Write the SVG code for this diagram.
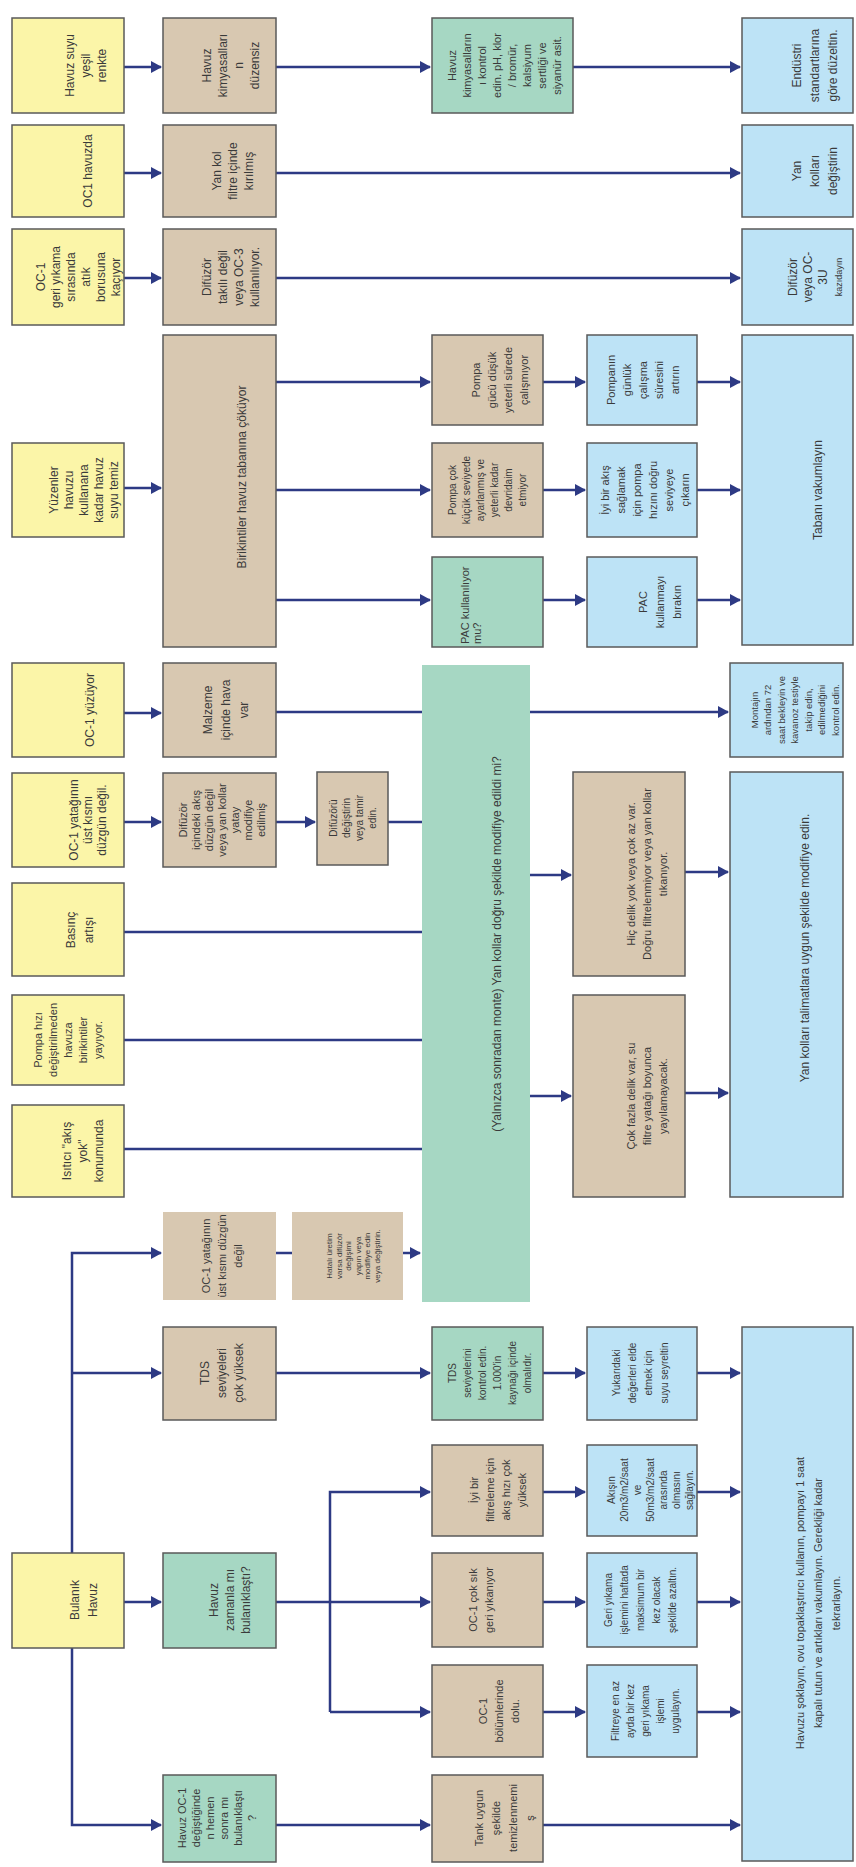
<svg xmlns="http://www.w3.org/2000/svg" width="856" height="1867" viewBox="0 0 856 1867">
<style>
.y{fill:#fbf5a8;stroke:#5a5a5a;stroke-width:1.5}
.t{fill:#d8c8b1;stroke:#5a5a5a;stroke-width:1.5}
.tn{fill:#d8c8b1}
.g{fill:#a6d7c3;stroke:#5a5a5a;stroke-width:1.5}
.gn{fill:#a6d7c3}
.b{fill:#bde3f6;stroke:#5a5a5a;stroke-width:1.5}
text{font-family:"Liberation Sans",Arial,sans-serif;fill:#3a3a3a;text-anchor:middle}
.c path{fill:none;stroke:#2d3a84;stroke-width:2.5}
.c path.a{marker-end:url(#ah)}
</style>
<defs>
<marker id="ah" markerUnits="userSpaceOnUse" markerWidth="11" markerHeight="12" refX="10" refY="6" orient="auto">
<path d="M0,0 L11,6 L0,12 z" fill="#2d3a84"/>
</marker>
</defs>
<rect width="856" height="1867" fill="#ffffff"/>

<g class="c" id="connectors">
<path class="a" d="M124,67 H161"/>
<path class="a" d="M124,173 H161"/>
<path class="a" d="M124,278 H161"/>
<path class="a" d="M124,488 H161"/>
<path class="a" d="M124,713 H161"/>
<path class="a" d="M124,822 H161"/>
<path class="a" d="M276,67 H430"/>
<path class="a" d="M573,67 H740"/>
<path class="a" d="M276,173 H740"/>
<path class="a" d="M276,278 H740"/>
<path class="a" d="M276,382 H430"/>
<path class="a" d="M276,490 H430"/>
<path class="a" d="M276,600 H430"/>
<path class="a" d="M543,382 H585"/>
<path class="a" d="M543,490 H585"/>
<path class="a" d="M543,600 H585"/>
<path class="a" d="M697,382 H740"/>
<path class="a" d="M697,490 H740"/>
<path class="a" d="M697,600 H740"/>
<path d="M276,712 H422"/>
<path class="a" d="M530,712 H728"/>
<path class="a" d="M276,822 H315"/>
<path d="M388,822 H422"/>
<path d="M124,932 H422"/>
<path d="M124,1040 H422"/>
<path d="M124,1149 H422"/>
<path class="a" d="M530,875 H571"/>
<path class="a" d="M530,1096 H571"/>
<path class="a" d="M685,872 H728"/>
<path class="a" d="M685,1093 H728"/>
<path d="M276,1253 H292"/>
<path class="a" d="M403,1253 H420"/>
<path class="a" d="M72,1553 V1253 H161"/>
<path class="a" d="M72,1373 H161"/>
<path class="a" d="M72,1648 V1825 H161"/>
<path class="a" d="M124,1602 H161"/>
<path class="a" d="M276,1373 H430"/>
<path class="a" d="M543,1373 H585"/>
<path class="a" d="M697,1373 H740"/>
<path class="a" d="M276,1602 H430"/>
<path class="a" d="M330,1712 V1492 H430"/>
<path class="a" d="M330,1712 H430"/>
<path class="a" d="M543,1492 H585"/>
<path class="a" d="M543,1602 H585"/>
<path class="a" d="M543,1712 H585"/>
<path class="a" d="M697,1492 H740"/>
<path class="a" d="M697,1602 H740"/>
<path class="a" d="M697,1712 H740"/>
<path class="a" d="M276,1825 H430"/>
<path class="a" d="M543,1825 H740"/>
</g>

<g id="y1"><rect class="y" x="12" y="18" width="112" height="95"/>
<text font-size="12" transform="translate(86,65.5) rotate(-90)"><tspan x="0" y="-11.8">Havuz suyu</tspan><tspan x="0" y="4.2">yeşil</tspan><tspan x="0" y="20.2">renkte</tspan></text></g>
<g id="y2"><rect class="y" x="12" y="125" width="112" height="92"/>
<text font-size="12" transform="translate(88,171) rotate(-90)"><tspan x="0" y="4.2">OC1 havuzda</tspan></text></g>
<g id="y3"><rect class="y" x="12" y="229" width="112" height="96"/>
<text font-size="12" transform="translate(78,277) rotate(-90)"><tspan x="0" y="-33.3">OC-1</tspan><tspan x="0" y="-18.3">geri yıkama</tspan><tspan x="0" y="-3.3">sırasında</tspan><tspan x="0" y="11.7">atık</tspan><tspan x="0" y="26.7">borusuna</tspan><tspan x="0" y="41.7">kaçıyor</tspan></text></g>
<g id="y4"><rect class="y" x="12" y="443" width="112" height="94"/>
<text font-size="12" transform="translate(84,490) rotate(-90)"><tspan x="0" y="-25.8">Yüzenler</tspan><tspan x="0" y="-10.8">havuzu</tspan><tspan x="0" y="4.2">kullanana</tspan><tspan x="0" y="19.2">kadar havuz</tspan><tspan x="0" y="34.2">suyu temiz</tspan></text></g>
<g id="y5"><rect class="y" x="12" y="663" width="112" height="94"/>
<text font-size="12" transform="translate(90,710) rotate(-90)"><tspan x="0" y="4.2">OC-1 yüzüyor</tspan></text></g>
<g id="y6"><rect class="y" x="12" y="773" width="112" height="94"/>
<text font-size="12" transform="translate(88,820) rotate(-90)"><tspan x="0" y="-9.8">OC-1 yatağının</tspan><tspan x="0" y="4.2">üst kısmı</tspan><tspan x="0" y="18.2">düzgün değil.</tspan></text></g>
<g id="y7"><rect class="y" x="12" y="883" width="112" height="93"/>
<text font-size="12" transform="translate(80,930) rotate(-90)"><tspan x="0" y="-4.8">Basınç</tspan><tspan x="0" y="13.2">artışı</tspan></text></g>
<g id="y8"><rect class="y" x="12" y="995" width="112" height="90"/>
<text font-size="11" transform="translate(68,1040) rotate(-90)"><tspan x="0" y="-26.15">Pompa hızı</tspan><tspan x="0" y="-11.15">değiştirilmeden</tspan><tspan x="0" y="3.85">havuza</tspan><tspan x="0" y="18.85">birikintiler</tspan><tspan x="0" y="33.85">yayıyor.</tspan></text></g>
<g id="y9"><rect class="y" x="12" y="1105" width="112" height="92"/>
<text font-size="12" transform="translate(83,1151) rotate(-90)"><tspan x="0" y="-11.8">Isıtıcı "akış</tspan><tspan x="0" y="4.2">yok"</tspan><tspan x="0" y="20.2">konumunda</tspan></text></g>
<g id="y10"><rect class="y" x="12" y="1553" width="112" height="95"/>
<text font-size="12" transform="translate(84,1600) rotate(-90)"><tspan x="0" y="-4.8">Bulanık</tspan><tspan x="0" y="13.2">Havuz</tspan></text></g>

<g id="t1"><rect class="t" x="163" y="18" width="113" height="95"/>
<text font-size="12" transform="translate(231,65.5) rotate(-90)"><tspan x="0" y="-19.8">Havuz</tspan><tspan x="0" y="-3.8">kimyasalları</tspan><tspan x="0" y="12.2">n</tspan><tspan x="0" y="28.2">düzensiz</tspan></text></g>
<g id="t2"><rect class="t" x="163" y="125" width="113" height="92"/>
<text font-size="12" transform="translate(233,171) rotate(-90)"><tspan x="0" y="-11.8">Yan kol</tspan><tspan x="0" y="4.2">filtre içinde</tspan><tspan x="0" y="20.2">kırılmış</tspan></text></g>
<g id="t3"><rect class="t" x="163" y="229" width="113" height="96"/>
<text font-size="12" transform="translate(231,277) rotate(-90)"><tspan x="0" y="-19.8">Difüzör</tspan><tspan x="0" y="-3.8">takılı değil</tspan><tspan x="0" y="12.2">veya OC-3</tspan><tspan x="0" y="28.2">kullanılıyor.</tspan></text></g>
<g id="t4"><rect class="t" x="163" y="335" width="113" height="312"/>
<text font-size="12" transform="translate(242,477) rotate(-90)"><tspan x="0" y="4.2">Birikintiler havuz tabanına çöküyor</tspan></text></g>
<g id="t5"><rect class="t" x="163" y="663" width="113" height="94"/>
<text font-size="12" transform="translate(226,710) rotate(-90)"><tspan x="0" y="-13.8">Malzeme</tspan><tspan x="0" y="4.2">içinde hava</tspan><tspan x="0" y="22.2">var</tspan></text></g>
<g id="t6"><rect class="t" x="163" y="773" width="113" height="94"/>
<text font-size="11" transform="translate(222,820) rotate(-90)"><tspan x="0" y="-35.15">Difüzör</tspan><tspan x="0" y="-22.15">içindeki akış</tspan><tspan x="0" y="-9.15">düzgün değil</tspan><tspan x="0" y="3.85">veya yan kollar</tspan><tspan x="0" y="16.85">yatay</tspan><tspan x="0" y="29.85">modifiye</tspan><tspan x="0" y="42.85">edilmiş</tspan></text></g>
<g id="st1"><rect class="t" x="317" y="772" width="71" height="93"/>
<text font-size="10" transform="translate(353,818) rotate(-90)"><tspan x="0" y="-16">Difüzörü</tspan><tspan x="0" y="-3">değiştirin</tspan><tspan x="0" y="10">veya tamir</tspan><tspan x="0" y="23">edin.</tspan></text></g>
<g id="t7"><rect class="tn" x="163" y="1212" width="113" height="88"/>
<text font-size="11" transform="translate(222,1256) rotate(-90)"><tspan x="0" y="-12.15">OC-1 yatağının</tspan><tspan x="0" y="3.85">üst kısmı düzgün</tspan><tspan x="0" y="19.85">değil</tspan></text></g>
<g id="st2"><rect class="tn" x="292" y="1212" width="111" height="88"/>
<text font-size="8" transform="translate(353,1256) rotate(-90)"><tspan x="0" y="-20.95">Hatalı üretim</tspan><tspan x="0" y="-11.45">varsa difüzör</tspan><tspan x="0" y="-1.95">değişimi</tspan><tspan x="0" y="7.55">yapın veya</tspan><tspan x="0" y="17.05">modifiye edin</tspan><tspan x="0" y="26.55">veya değiştirin.</tspan></text></g>
<g id="t8"><rect class="t" x="163" y="1327" width="113" height="93"/>
<text font-size="12" transform="translate(222,1373) rotate(-90)"><tspan x="0" y="-12.8">TDS</tspan><tspan x="0" y="4.2">seviyeleri</tspan><tspan x="0" y="21.2">çok yüksek</tspan></text></g>
<g id="g5"><rect class="g" x="163" y="1553" width="113" height="95"/>
<text font-size="12" transform="translate(230,1600) rotate(-90)"><tspan x="0" y="-11.8">Havuz</tspan><tspan x="0" y="4.2">zamanla mı</tspan><tspan x="0" y="20.2">bulanıklaştı?</tspan></text></g>
<g id="g6"><rect class="g" x="163" y="1775" width="113" height="87"/>
<text font-size="11" transform="translate(222,1818) rotate(-90)"><tspan x="0" y="-36.15">Havuz OC-1</tspan><tspan x="0" y="-22.15">değiştiğinde</tspan><tspan x="0" y="-8.15">n hemen</tspan><tspan x="0" y="5.85">sonra mı</tspan><tspan x="0" y="19.85">bulanıklaştı</tspan><tspan x="0" y="33.85">?</tspan></text></g>

<g id="g1"><rect class="g" x="432" y="18" width="141" height="95"/>
<text font-size="11" transform="translate(505,65.5) rotate(-90)"><tspan x="0" y="-48.65">Havuz</tspan><tspan x="0" y="-33.65">kimyasalların</tspan><tspan x="0" y="-18.65">ı kontrol</tspan><tspan x="0" y="-3.65">edin. pH, klor</tspan><tspan x="0" y="11.35">/ bromür,</tspan><tspan x="0" y="26.35">kalsiyum</tspan><tspan x="0" y="41.35">sertliği ve</tspan><tspan x="0" y="56.35">siyanür asit.</tspan></text></g>
<g id="pg"><rect class="t" x="432" y="335" width="111" height="90"/>
<text font-size="11" transform="translate(500,380) rotate(-90)"><tspan x="0" y="-20.15">Pompa</tspan><tspan x="0" y="-4.15">gücü düşük</tspan><tspan x="0" y="11.85">yeterli sürede</tspan><tspan x="0" y="27.85">çalışmıyor</tspan></text></g>
<g id="pk"><rect class="t" x="432" y="443" width="111" height="94"/>
<text font-size="10" transform="translate(487,490) rotate(-90)"><tspan x="0" y="-31.5">Pompa çok</tspan><tspan x="0" y="-17.5">küçük seviyede</tspan><tspan x="0" y="-3.5">ayarlanmış ve</tspan><tspan x="0" y="10.5">yeterli kadar</tspan><tspan x="0" y="24.5">devridaim</tspan><tspan x="0" y="38.5">etmiyor</tspan></text></g>
<g id="pac"><rect class="g" x="432" y="557" width="111" height="90"/>
<text font-size="11" style="text-anchor:start" transform="translate(470,644) rotate(-90)"><tspan x="0" y="-1">PAC kullanılıyor</tspan><tspan x="0" y="11">mu?</tspan></text></g>
<g id="gbig"><rect class="gn" x="422" y="665" width="108" height="637"/>
<text font-size="12" transform="translate(497,944) rotate(-90)"><tspan x="0" y="4.2">(Yalnızca sonradan monte) Yan kollar doğru şekilde modifiye edildi mi?</tspan></text></g>
<g id="gtds"><rect class="g" x="432" y="1327" width="111" height="93"/>
<text font-size="10" transform="translate(490,1373) rotate(-90)"><tspan x="0" y="-34">TDS</tspan><tspan x="0" y="-19">seviyelerini</tspan><tspan x="0" y="-4">kontrol edin.</tspan><tspan x="0" y="11">1.000'in</tspan><tspan x="0" y="26">kaynağı içinde</tspan><tspan x="0" y="41">olmalıdır.</tspan></text></g>
<g id="ti"><rect class="t" x="432" y="1445" width="111" height="91"/>
<text font-size="11" transform="translate(498,1490) rotate(-90)"><tspan x="0" y="-20.15">İyi bir</tspan><tspan x="0" y="-4.15">filtreleme için</tspan><tspan x="0" y="11.85">akış hızı çok</tspan><tspan x="0" y="27.85">yüksek</tspan></text></g>
<g id="ts"><rect class="t" x="432" y="1553" width="111" height="94"/>
<text font-size="11" transform="translate(481,1600) rotate(-90)"><tspan x="0" y="-4.15">OC-1 çok sık</tspan><tspan x="0" y="11.85">geri yıkanıyor</tspan></text></g>
<g id="td"><rect class="t" x="432" y="1665" width="111" height="92"/>
<text font-size="11" transform="translate(499,1711) rotate(-90)"><tspan x="0" y="-12.15">OC-1</tspan><tspan x="0" y="3.85">bölümlerinde</tspan><tspan x="0" y="19.85">dolu.</tspan></text></g>
<g id="tt"><rect class="t" x="432" y="1775" width="111" height="87"/>
<text font-size="11" transform="translate(505,1818) rotate(-90)"><tspan x="0" y="-21.65">Tank uygun</tspan><tspan x="0" y="-4.65">şekilde</tspan><tspan x="0" y="12.35">temizlenmemi</tspan><tspan x="0" y="29.35">ş</tspan></text></g>

<g id="th"><rect class="t" x="573" y="772" width="112" height="204"/>
<text font-size="11" transform="translate(647,874) rotate(-90)"><tspan x="0" y="-12.15">Hiç delik yok veya çok az var.</tspan><tspan x="0" y="3.85">Doğru filtrelenmiyor veya yan kollar</tspan><tspan x="0" y="19.85">tıkanıyor.</tspan></text></g>
<g id="tc"><rect class="t" x="573" y="995" width="112" height="202"/>
<text font-size="11" transform="translate(647,1096) rotate(-90)"><tspan x="0" y="-12.15">Çok fazla delik var, su</tspan><tspan x="0" y="3.85">filtre yatağı boyunca</tspan><tspan x="0" y="19.85">yayılamayacak.</tspan></text></g>

<g id="b1"><rect class="b" x="587" y="335" width="110" height="90"/>
<text font-size="11" transform="translate(643,380) rotate(-90)"><tspan x="0" y="-28.15">Pompanın</tspan><tspan x="0" y="-12.15">günlük</tspan><tspan x="0" y="3.85">çalışma</tspan><tspan x="0" y="19.85">süresini</tspan><tspan x="0" y="35.85">artırın</tspan></text></g>
<g id="b2"><rect class="b" x="587" y="443" width="110" height="94"/>
<text font-size="11" transform="translate(645,490) rotate(-90)"><tspan x="0" y="-36.15">İyi bir akış</tspan><tspan x="0" y="-20.15">sağlamak</tspan><tspan x="0" y="-4.15">için pompa</tspan><tspan x="0" y="11.85">hızını doğru</tspan><tspan x="0" y="27.85">seviyeye</tspan><tspan x="0" y="43.85">çıkarın</tspan></text></g>
<g id="b3"><rect class="b" x="587" y="557" width="110" height="90"/>
<text font-size="11" transform="translate(660,602) rotate(-90)"><tspan x="0" y="-13.15">PAC</tspan><tspan x="0" y="3.85">kullanmayı</tspan><tspan x="0" y="20.85">bırakın</tspan></text></g>
<g id="b4"><rect class="b" x="587" y="1327" width="110" height="93"/>
<text font-size="10" transform="translate(640,1373) rotate(-90)"><tspan x="0" y="-20.5">Yukarıdaki</tspan><tspan x="0" y="-4.5">değerleri elde</tspan><tspan x="0" y="11.5">etmek için</tspan><tspan x="0" y="27.5">suyu seyreltin</tspan></text></g>
<g id="b5"><rect class="b" x="587" y="1445" width="110" height="91"/>
<text font-size="10" transform="translate(650,1490) rotate(-90)"><tspan x="0" y="-35.5">Akışın</tspan><tspan x="0" y="-22.5">20m3/m2/saat</tspan><tspan x="0" y="-9.5">ve</tspan><tspan x="0" y="3.5">50m3/m2/saat</tspan><tspan x="0" y="16.5">arasında</tspan><tspan x="0" y="29.5">olmasını</tspan><tspan x="0" y="42.5">sağlayın.</tspan></text></g>
<g id="b6"><rect class="b" x="587" y="1553" width="110" height="94"/>
<text font-size="10" transform="translate(640,1600) rotate(-90)"><tspan x="0" y="-28.5">Geri yıkama</tspan><tspan x="0" y="-12.5">işlemini haftada</tspan><tspan x="0" y="3.5">maksimum bir</tspan><tspan x="0" y="19.5">kez olacak</tspan><tspan x="0" y="35.5">şekilde azaltın.</tspan></text></g>
<g id="b7"><rect class="b" x="587" y="1665" width="110" height="92"/>
<text font-size="10" transform="translate(645,1711) rotate(-90)"><tspan x="0" y="-26.5">Filtreye en az</tspan><tspan x="0" y="-11.5">ayda bir kez</tspan><tspan x="0" y="3.5">geri yıkama</tspan><tspan x="0" y="18.5">işlemi</tspan><tspan x="0" y="33.5">uygulayın.</tspan></text></g>

<g id="bb1"><rect class="b" x="742" y="18" width="111" height="95"/>
<text font-size="12" transform="translate(815,65.5) rotate(-90)"><tspan x="0" y="-13.8">Endüstri</tspan><tspan x="0" y="4.2">standartlarına</tspan><tspan x="0" y="22.2">göre düzeltin.</tspan></text></g>
<g id="bb2"><rect class="b" x="742" y="125" width="111" height="92"/>
<text font-size="12" transform="translate(815,171) rotate(-90)"><tspan x="0" y="-13.8">Yan</tspan><tspan x="0" y="4.2">kolları</tspan><tspan x="0" y="22.2">değiştirin</tspan></text></g>
<g id="bb3"><rect class="b" x="742" y="229" width="111" height="96"/>
<text font-size="12" transform="translate(815,277) rotate(-90)"><tspan x="0" y="-18.5">Difüzör</tspan><tspan x="0" y="-3.5">veya OC-</tspan><tspan x="0" y="11.5">3U</tspan><tspan x="0" y="26.5" font-size="9">kazıdayın</tspan></text></g>
<g id="bb4"><rect class="b" x="742" y="335" width="111" height="310"/>
<text font-size="12" transform="translate(818,490) rotate(-90)"><tspan x="0" y="4.2">Tabanı vakumlayın</tspan></text></g>
<g id="bb5"><rect class="b" x="730" y="663" width="113" height="94"/>
<text font-size="9.5" transform="translate(795,710) rotate(-90)"><tspan x="0" y="-37.2">Montajın</tspan><tspan x="0" y="-23.7">ardından 72</tspan><tspan x="0" y="-10.2">saat bekleyin ve</tspan><tspan x="0" y="3.3">kavanoz testiyle</tspan><tspan x="0" y="16.8">takip edin,</tspan><tspan x="0" y="30.3">edilmediğini</tspan><tspan x="0" y="43.8">kontrol edin.</tspan></text></g>
<g id="bb6"><rect class="b" x="730" y="772" width="113" height="425"/>
<text font-size="12" transform="translate(805,948) rotate(-90)"><tspan x="0" y="4.2">Yan kolları talimatlara uygun şekilde modifiye edin.</tspan></text></g>
<g id="bb7"><rect class="b" x="742" y="1327" width="111" height="534"/>
<text font-size="11" transform="translate(818,1603) rotate(-90)"><tspan x="0" y="-14.15">Havuzu şoklayın, ovu topaklaştırıcı kullanın, pompayı 1 saat</tspan><tspan x="0" y="3.85">kapalı tutun ve artıkları vakumlayın. Gerekliği kadar</tspan><tspan x="0" y="21.85">tekrarlayın.</tspan></text></g>
</svg>
